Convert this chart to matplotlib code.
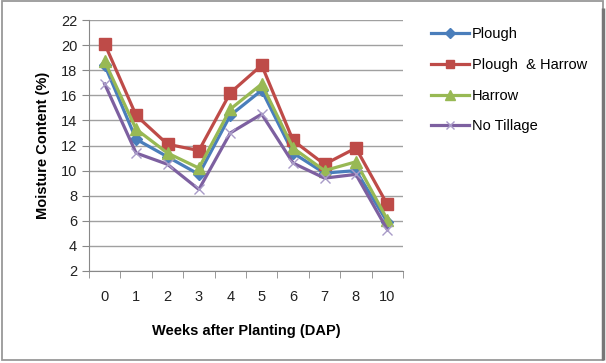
import matplotlib
matplotlib.use('Agg')
import matplotlib.pyplot as plt
import numpy as np
from matplotlib.patches import Rectangle

weeks = ['0', '1', '2', '3', '4', '5', '6', '7', '8', '10']
plough = [18.4, 12.5, 11.1, 9.7, 14.4, 16.4, 11.4, 9.8, 10.0, 5.9]
plough_harrow = [20.1, 14.4, 12.1, 11.6, 16.2, 18.4, 12.4, 10.5, 11.8, 7.3]
harrow = [18.7, 13.3, 11.4, 10.2, 14.9, 16.9, 11.8, 10.0, 10.7, 6.1]
no_tillage = [16.9, 11.4, 10.5, 8.5, 13.0, 14.5, 10.6, 9.4, 9.7, 5.3]

plt.rcParams['font.family'] = ['Liberation Sans', 'DejaVu Sans']

fig = plt.figure(figsize=(6.06, 3.63), dpi=100)
ax = fig.add_axes([89 / 606, 1 - 271 / 363, (403 - 89) / 606, (271 - 20) / 363])

x = np.arange(len(weeks))
series = [
    ('Plough', plough, '#4A7EBB', 'D', 6),
    ('Plough  & Harrow', plough_harrow, '#BE4B48', 's', 8),
    ('Harrow', harrow, '#98B954', '^', 8.5),
    ('No Tillage', no_tillage, '#7D60A0', 'x', 7),
]
for name, vals, col, mk, ms in series:
    ax.plot(x, vals, color=col, lw=2.3, marker=mk, markersize=ms,
            markeredgewidth=1,
            markeredgecolor=col if mk != 'x' else '#A99BC8', label=name)

ax.set_xlim(-0.5, len(weeks) - 0.5)
ax.set_ylim(2, 22)
ax.set_yticks(np.arange(2, 23, 2))
ax.set_xticks(x)
ax.set_xticklabels(weeks)
ax.set_xticks(np.arange(-0.5, len(weeks)), minor=True)
ax.tick_params(axis='x', which='major', length=0, pad=14, labelsize=10.5, colors='#222222')
ax.tick_params(axis='x', which='minor', length=5, color='#888888', direction='out')
ax.tick_params(axis='y', length=5, color='#888888', labelsize=10.5, colors='#222222')
ax.yaxis.grid(True, color='#a0a0a0', lw=1)
ax.set_axisbelow(True)
for s in ['top', 'right']:
    ax.spines[s].set_visible(False)
for s in ['left', 'bottom']:
    ax.spines[s].set_color('#888888')

ax.set_ylabel('Moisture Content (%)', fontsize=10.5, fontweight='bold', labelpad=8)
ax.set_xlabel('Weeks after Planting (DAP)', fontsize=10.5, fontweight='bold', labelpad=14)

ax.legend(loc='upper left', bbox_to_anchor=(1.07, 0.995), frameon=False, fontsize=10.5,
          handlelength=2.6, handletextpad=0.2, labelspacing=1.15, borderaxespad=0,
          markerscale=0.8)

fig.patches.append(Rectangle((0.003, 0.008), 0.992, 0.988, transform=fig.transFigure,
                             fill=False, edgecolor='#999999', lw=1.3))
fig.patches.append(Rectangle((0.995, 0.008), 0.0, 0.97, transform=fig.transFigure,
                             fill=False, edgecolor='#777777', lw=2.5))

fig.savefig('out.png', dpi=100)
